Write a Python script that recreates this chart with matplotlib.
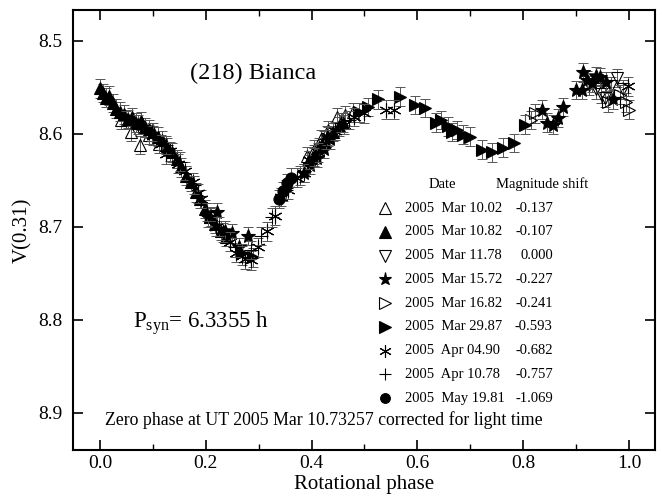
import matplotlib.pyplot as plt
import numpy as np
from matplotlib.ticker import MultipleLocator

plt.rcParams['font.family'] = ['Liberation Serif', 'DejaVu Serif']
plt.rcParams['mathtext.fontset'] = 'custom'
plt.rcParams['mathtext.rm'] = 'Liberation Serif'
plt.rcParams['mathtext.it'] = 'Liberation Serif:italic'

# Reduced V magnitudes of (218) Bianca vs rotational phase, one block per night
mar1002_phase = [0.040, 0.058, 0.076, 0.092, 0.112, 0.392, 0.405, 0.418, 0.432, 0.448, 0.463, 0.478]
mar1002_mag = [8.585, 8.598, 8.612, 8.601, 8.611, 8.624, 8.617, 8.606, 8.596, 8.582, 8.580, 8.577]

mar1082_phase = [0.000, 0.006, 0.012, 0.018, 0.025, 0.031, 0.038, 0.046, 0.053, 0.061,
                 0.068, 0.077, 0.085, 0.093, 0.101, 0.110, 0.118, 0.127, 0.136, 0.145,
                 0.154, 0.163, 0.172, 0.181, 0.190, 0.199, 0.208, 0.218, 0.228, 0.238,
                 0.395, 0.405, 0.415, 0.423, 0.432, 0.441, 0.452, 0.460]
mar1082_mag = [8.551, 8.556, 8.561, 8.559, 8.567, 8.573, 8.576, 8.579, 8.584, 8.582,
               8.588, 8.586, 8.593, 8.595, 8.598, 8.603, 8.607, 8.614, 8.620, 8.627,
               8.636, 8.645, 8.652, 8.663, 8.670, 8.681, 8.690, 8.697, 8.704, 8.711,
               8.628, 8.622, 8.614, 8.607, 8.603, 8.598, 8.592, 8.588]

mar1178_phase = [0.925, 0.938, 0.948, 0.955, 0.966, 0.977, 0.988]
mar1178_mag = [8.548, 8.552, 8.557, 8.561, 8.549, 8.540, 8.552]

mar1572_phase = [0.205, 0.221, 0.236, 0.249, 0.262, 0.280, 0.386, 0.398, 0.410, 0.423,
                 0.435, 0.835, 0.845, 0.857, 0.866, 0.875, 0.900, 0.911, 0.913, 0.920,
                 0.930, 0.937, 0.945, 0.957, 0.970]
mar1572_mag = [8.690, 8.684, 8.704, 8.707, 8.722, 8.710, 8.642, 8.633, 8.626, 8.616,
               8.606, 8.574, 8.588, 8.590, 8.583, 8.571, 8.553, 8.553, 8.534, 8.542,
               8.545, 8.538, 8.539, 8.544, 8.563]

mar1682_phase = [0.815, 0.822, 0.960, 0.983, 0.995, 1.000]
mar1682_mag = [8.585, 8.578, 8.566, 8.558, 8.566, 8.574]

mar2987_phase = [0.268, 0.289, 0.490, 0.507, 0.526, 0.567, 0.595, 0.614, 0.635, 0.645,
                 0.658, 0.666, 0.675, 0.686, 0.700, 0.722, 0.741, 0.762, 0.783, 0.803]
mar2987_mag = [8.728, 8.733, 8.577, 8.571, 8.563, 8.560, 8.569, 8.572, 8.588, 8.585,
               8.592, 8.598, 8.596, 8.601, 8.603, 8.617, 8.620, 8.615, 8.610, 8.590]

apr0490_phase = [0.100, 0.115, 0.125, 0.132, 0.148, 0.160, 0.175, 0.185, 0.192, 0.210,
                 0.220, 0.232, 0.246, 0.258, 0.268, 0.275, 0.285, 0.298, 0.315, 0.330,
                 0.342, 0.355, 0.372, 0.385, 0.395, 0.412, 0.430, 0.445, 0.462, 0.480,
                 0.500, 0.540, 0.556, 0.998]
apr0490_mag = [8.602, 8.611, 8.622, 8.619, 8.632, 8.640, 8.652, 8.664, 8.670, 8.689,
               8.700, 8.706, 8.716, 8.728, 8.731, 8.735, 8.736, 8.722, 8.705, 8.688,
               8.668, 8.660, 8.647, 8.642, 8.628, 8.620, 8.602, 8.597, 8.590, 8.582,
               8.578, 8.574, 8.574, 8.549]

apr1078_phase = [0.050, 0.072, 0.098, 0.125, 0.152, 0.178, 0.203, 0.225, 0.255, 0.285,
                 0.305, 0.325, 0.352, 0.378, 0.405, 0.428, 0.455, 0.470]
apr1078_mag = [8.585, 8.590, 8.598, 8.612, 8.630, 8.655, 8.684, 8.700, 8.722, 8.725,
               8.710, 8.690, 8.660, 8.645, 8.625, 8.606, 8.588, 8.585]

may1981_phase = [0.338, 0.346, 0.353, 0.361]
may1981_mag = [8.670, 8.662, 8.653, 8.647]

mag_err = 0.010

dates = ['2005  Mar 10.02', '2005  Mar 10.82', '2005  Mar 11.78', '2005  Mar 15.72',
         '2005  Mar 16.82', '2005  Mar 29.87', '2005  Apr 04.90', '2005  Apr 10.78',
         '2005  May 19.81']
shifts = ['-0.137', '-0.107', '0.000', '-0.227', '-0.241', '-0.593', '-0.682', '-0.757', '-1.069']

asterisk = (6, 2, 0)
styles = [('^', 'none'), ('^', 'black'), ('v', 'none'), ('*', 'black'), ('>', 'none'),
          ('>', 'black'), (asterisk, 'none'), ('+', 'none'), ('o', 'black')]
sizes = [9, 9, 9, 10.5, 9, 9, 10, 10, 8]

series = [(mar1002_phase, mar1002_mag), (mar1082_phase, mar1082_mag),
          (mar1178_phase, mar1178_mag), (mar1572_phase, mar1572_mag),
          (mar1682_phase, mar1682_mag), (mar2987_phase, mar2987_mag),
          (apr0490_phase, apr0490_mag), (apr1078_phase, apr1078_mag),
          (may1981_phase, may1981_mag)]

fig = plt.figure(figsize=(6.62, 4.96), dpi=100)
ax = fig.add_axes([0.111, 0.093, 0.879, 0.887])

for (ph, mg), (mk, fc), ms in zip(series, styles, sizes):
    ax.errorbar(ph, mg, yerr=mag_err, fmt='none', ecolor='#555555',
                elinewidth=0.7, capsize=3.5, capthick=0.7)
    ax.plot(ph, mg, linestyle='none', marker=mk, markersize=ms,
            markerfacecolor=fc, markeredgecolor='black', markeredgewidth=0.8)

ax.set_xlim(-0.05, 1.05)
ax.set_ylim(8.94, 8.4667)
ax.xaxis.set_major_locator(MultipleLocator(0.2))
ax.xaxis.set_minor_locator(MultipleLocator(0.1))
ax.yaxis.set_major_locator(MultipleLocator(0.1))
ax.tick_params(which='both', direction='in', top=True, right=True, labelsize=14)
ax.tick_params(which='major', length=7, width=1.2)
ax.tick_params(which='minor', length=4, width=1.0)
ax.tick_params(axis='y', pad=8)
for sp in ax.spines.values():
    sp.set_linewidth(1.5)

ax.set_xlabel('Rotational phase', fontsize=15, labelpad=2)
ax.set_ylabel('V(0.31)', fontsize=15)

ax.text(0.17, 8.535, '(218) Bianca', fontsize=17.5, ha='left', va='center')
ax.text(0.063, 8.804, r'P$_\mathrm{syn}$= 6.3355 h', fontsize=16.5, ha='left', va='center')
ax.text(0.01, 8.908, 'Zero phase at UT 2005 Mar 10.73257 corrected for light time',
        fontsize=12.8, ha='left', va='center')

# legend table drawn by hand
head_y = 8.654
row_y0 = 8.680
row_dy = 0.02554
ax.text(0.647, head_y, 'Date', fontsize=10.5, ha='center', va='center')
ax.text(0.836, head_y, 'Magnitude shift', fontsize=10.5, ha='center', va='center')
for i, (d, s) in enumerate(zip(dates, shifts)):
    y = row_y0 + i * row_dy
    mk, fc = styles[i]
    ax.plot([0.539], [y], linestyle='none', marker=mk, markersize=sizes[i] - 1,
            markerfacecolor=fc, markeredgecolor='black', markeredgewidth=0.8)
    ax.text(0.577, y, d, fontsize=10.5, ha='left', va='center')
    ax.text(0.856, y, s, fontsize=10.5, ha='right', va='center')

fig.savefig('out.png', dpi=100)
